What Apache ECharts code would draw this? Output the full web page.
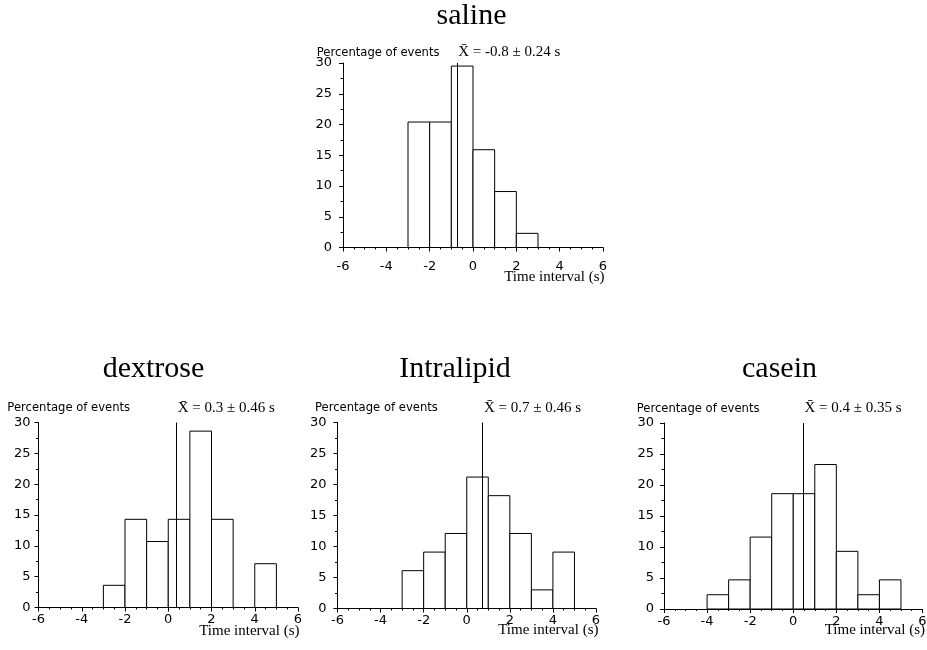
<!DOCTYPE html>
<html><head><meta charset="utf-8">
<script src="https://cdn.jsdelivr.net/npm/echarts@6/dist/echarts.min.js"></script>
<style>html,body{margin:0;padding:0;background:#fff}#c{width:927px;height:650px}</style>
</head><body><div id="c"></div>
<script>
// ---- data ----
const binStarts = [-6, -5, -4, -3, -2, -1, 0, 1, 2, 3, 4, 5];
const binWidth = 1;
const panelNames = ['saline', 'dextrose', 'Intralipid', 'casein'];
const salineValues     = [0, 0, 0, 20.4, 20.4, 29.5, 15.9, 9.1, 2.3, 0, 0, 0];
const dextroseValues   = [0, 0, 0, 3.6, 14.3, 10.7, 14.3, 28.6, 14.3, 0, 7.1, 0];
const intralipidValues = [0, 0, 0, 6.1, 9.1, 12.1, 21.2, 18.2, 12.1, 3.0, 9.1, 0];
const caseinValues     = [0, 0, 2.3, 4.7, 11.6, 18.6, 18.6, 23.3, 9.3, 2.3, 4.7, 0];
const meanTexts = ['-0.8 ± 0.24 s', '0.3 ± 0.46 s', '0.7 ± 0.46 s', '0.4 ± 0.35 s'];
const meanLinePositions = [-0.75, 0.37, 0.73, 0.45];
const xMin = -6, xMax = 6, xInterval = 2;
const yMin = 0, yMax = 30, yInterval = 5;
const yAxisTitle = 'Percentage of events';
const xAxisTitle = 'Time interval (s)';

// ---- layout ----
const layouts = [
  { grid: {left: 343, top: 63, width: 260, height: 184.5}, title: [471.5, 16.5], yName: [316.7, 53.3], xName: [604.5, 277.5], xLabelMargin: 13, yLabelMargin: 11, meanDist: 3.5 },
  { grid: {left: 38.5, top: 422.5, width: 259.5, height: 185}, title: [153.5, 369.3], yName: [7.3, 408.3], xName: [299.5, 631.5], xLabelMargin: 6, yLabelMargin: 8, meanDist: 6.5 },
  { grid: {left: 337.5, top: 422.5, width: 258.5, height: 186}, title: [455, 369.3], yName: [315, 408.3], xName: [598.5, 630.5], xLabelMargin: 6, yLabelMargin: 11, meanDist: 7 },
  { grid: {left: 664, top: 423, width: 258.5, height: 186}, title: [779.5, 369.3], yName: [636.7, 409.3], xName: [925, 630.5], xLabelMargin: 6, yLabelMargin: 10, meanDist: 7.5 }
];

const allValues = [salineValues, dextroseValues, intralipidValues, caseinValues];
const serif = '"Liberation Serif", "Times New Roman", serif';
const sans = '"DejaVu Sans", Verdana, sans-serif';

function renderBin(params, api) {
  const x0 = api.value(0), x1 = api.value(1), v = api.value(2);
  if (!v) return null;
  const p0 = api.coord([x0, 0]);
  const p1 = api.coord([x1, v]);
  return {
    type: 'rect',
    shape: {x: p0[0], y: p1[1], width: p1[0] - p0[0], height: p0[1] - p1[1]},
    style: {fill: '#fff', stroke: '#000', lineWidth: 1}
  };
}

const grid = [], xAxis = [], yAxis = [], series = [], title = [];
layouts.forEach((L, i) => {
  grid.push(Object.assign({containLabel: false, outerBoundsMode: 'none'}, L.grid));
  xAxis.push({
    type: 'value', gridIndex: i, min: xMin, max: xMax, interval: xInterval,
    axisLine: {show: true, onZero: false, lineStyle: {color: '#000', width: 1}},
    axisTick: {show: true, length: 4, lineStyle: {color: '#000'}},
    minorTick: {show: true, splitNumber: 4, length: 2, lineStyle: {color: '#000'}},
    splitLine: {show: false},
    axisLabel: {fontFamily: sans, fontSize: 13, color: '#000', margin: L.xLabelMargin, showMinLabel: true, showMaxLabel: true}
  });
  yAxis.push({
    type: 'value', gridIndex: i, min: yMin, max: yMax, interval: yInterval,
    axisLine: {show: true, onZero: false, lineStyle: {color: '#000', width: 1}},
    axisTick: {show: true, length: 4, lineStyle: {color: '#000'}},
    minorTick: {show: true, splitNumber: 2, length: 2.5, lineStyle: {color: '#000'}},
    splitLine: {show: false},
    axisLabel: {fontFamily: sans, fontSize: 13, color: '#000', margin: L.yLabelMargin}
  });
  series.push({
    type: 'custom', xAxisIndex: i, yAxisIndex: i,
    renderItem: renderBin,
    encode: {x: [0, 1], y: 2},
    data: binStarts.map((s, k) => [s, s + binWidth, allValues[i][k]]),
    silent: true, animation: false
  });
  series.push({
    type: 'line', xAxisIndex: i, yAxisIndex: i, data: [], z: 5, silent: true, animation: false,
    markLine: {
      silent: true, animation: false, symbol: ['none', 'none'],
      lineStyle: {color: '#000', width: 1, type: 'solid'},
      label: {
        show: true, position: 'end', align: 'left', verticalAlign: 'bottom',
        distance: L.meanDist, padding: [0, 0, 0, 1.5],
        fontFamily: serif, fontSize: 15, color: '#000',
        formatter: 'X\u0304 = ' + meanTexts[i]
      },
      data: [{xAxis: meanLinePositions[i]}]
    }
  });
  title.push({
    text: panelNames[i], left: L.title[0], top: L.title[1], padding: 0,
    textAlign: 'center', textVerticalAlign: 'middle',
    textStyle: {fontFamily: serif, fontSize: 30, fontWeight: 'normal', color: '#000'}
  });
  title.push({
    text: yAxisTitle, left: L.yName[0], top: L.yName[1], padding: 0,
    textAlign: 'left', textVerticalAlign: 'middle',
    textStyle: {fontFamily: sans, fontSize: 11.6, fontWeight: 'normal', color: '#000'}
  });
  title.push({
    text: xAxisTitle, left: L.xName[0], top: L.xName[1], padding: 0,
    textAlign: 'right', textVerticalAlign: 'middle',
    textStyle: {fontFamily: serif, fontSize: 15, fontWeight: 'normal', color: '#000'}
  });
});

const chart = echarts.init(document.getElementById('c'), null, {renderer: 'canvas'});
chart.setOption({
  backgroundColor: '#fff',
  animation: false,
  title, grid, xAxis, yAxis, series
});
</script>
</body></html>
